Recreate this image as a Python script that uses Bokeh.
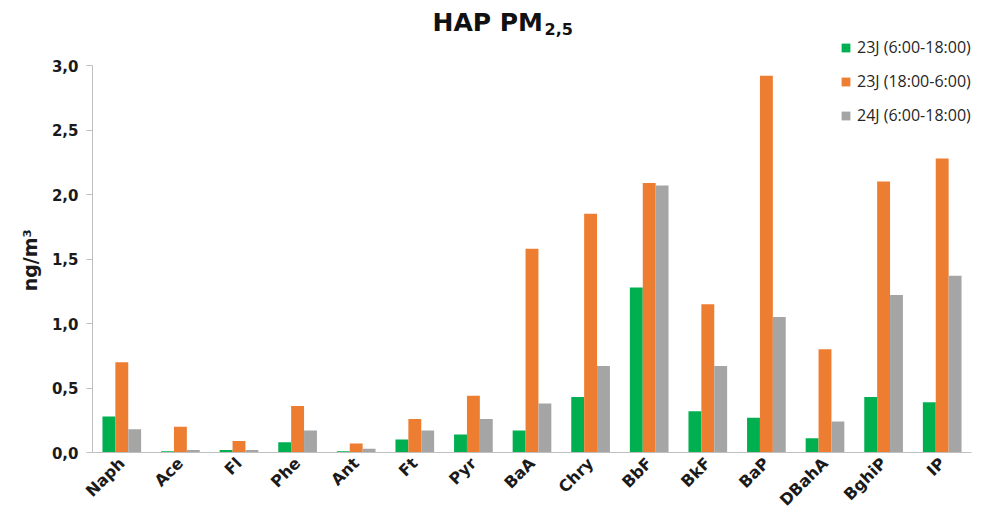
from math import pi
from bokeh.plotting import figure
from bokeh.models import (ColumnDataSource, FactorRange, Range1d, FixedTicker,
                          CustomJSTickFormatter, Legend, LegendItem, Label)
from bokeh.transform import dodge
from bokeh.embed import file_html
from bokeh.resources import INLINE

# ---- data ----
categories = ["Naph", "Ace", "Fl", "Phe", "Ant", "Ft", "Pyr", "BaA", "Chry",
              "BbF", "BkF", "BaP", "DBahA", "BghiP", "IP"]
day23 = [0.28, 0.01, 0.02, 0.08, 0.01, 0.10, 0.14, 0.17, 0.43, 1.28, 0.32, 0.27, 0.11, 0.43, 0.39]
night23 = [0.70, 0.20, 0.09, 0.36, 0.07, 0.26, 0.44, 1.58, 1.85, 2.09, 1.15, 2.92, 0.80, 2.10, 2.28]
day24 = [0.18, 0.02, 0.02, 0.17, 0.03, 0.17, 0.26, 0.38, 0.67, 2.07, 0.67, 1.05, 0.24, 1.22, 1.37]
series_labels = ["23J (6:00-18:00)", "23J (18:00-6:00)", "24J (6:00-18:00)"]
y_ticks = [0.0, 0.5, 1.0, 1.5, 2.0, 2.5, 3.0]
y_max = 3.0

colors = ["#00B050", "#ED7D31", "#A5A5A5"]
FONT = "DejaVu Sans"

# layout (pixels)
W, H = 989, 519
left, right, top, bottom = 92, 18, 8, 67
axis_top_px = 65  # where 3,0 sits on the page
frame_h = H - top - bottom
y_end = y_max * frame_h / (H - bottom - axis_top_px)

src = ColumnDataSource(dict(cat=categories, a=day23, b=night23, c=day24))

p = figure(x_range=FactorRange(*categories), y_range=Range1d(0, y_end),
           width=W, height=H, output_backend="svg", toolbar_location=None,
           min_border_left=left, min_border_right=right, min_border_top=top,
           min_border_bottom=bottom)
p.outline_line_color = None
p.grid.visible = False
p.background_fill_color = "white"

bw = 0.22
r1 = p.vbar(x=dodge("cat", -bw, range=p.x_range), top="a", width=bw, source=src,
            fill_color=colors[0], line_color=None)
r2 = p.vbar(x=dodge("cat", 0.0, range=p.x_range), top="b", width=bw, source=src,
            fill_color=colors[1], line_color=None)
r3 = p.vbar(x=dodge("cat", bw, range=p.x_range), top="c", width=bw, source=src,
            fill_color=colors[2], line_color=None)

# y axis
ya = p.yaxis[0]
ya.bounds = (0, y_max)
ya.ticker = FixedTicker(ticks=y_ticks)
ya.formatter = CustomJSTickFormatter(code="return tick.toFixed(1).replace('.', ',');")
ya.major_label_text_font = FONT
ya.major_label_text_font_style = "bold"
ya.major_label_text_font_size = "15px"
ya.major_label_text_color = "#1a1a1a"
ya.major_label_standoff = 8
ya.axis_line_color = "#BFBFBF"
ya.major_tick_line_color = "#BFBFBF"
ya.major_tick_out = 6
ya.major_tick_in = 0
ya.minor_tick_line_color = None
# trailing no-break spaces shift the centred label down to the middle of 0..3
ya.axis_label = "ng/m³" + "\u00a0" * 9
ya.axis_label_text_font = FONT
ya.axis_label_text_font_style = "bold"
ya.axis_label_text_font_size = "19px"
ya.axis_label_text_color = "#1a1a1a"
ya.axis_label_standoff = 8

# x axis
xa = p.xaxis[0]
xa.major_label_orientation = pi / 4
xa.major_label_text_font = FONT
xa.major_label_text_font_style = "bold"
xa.major_label_text_font_size = "16px"
xa.major_label_text_color = "#1a1a1a"
xa.major_tick_line_color = None
xa.major_tick_out = 0
xa.major_tick_in = 0
xa.major_label_standoff = 8
xa.axis_line_color = "#BFBFBF"

# legend
legend = Legend(items=[LegendItem(label=series_labels[0], renderers=[r1]),
                       LegendItem(label=series_labels[1], renderers=[r2]),
                       LegendItem(label=series_labels[2], renderers=[r3])],
                location=(748, 326), orientation="vertical",
                border_line_color=None, background_fill_alpha=0,
                padding=0, margin=0, spacing=12, label_height=20,
                glyph_height=11, glyph_width=11, label_standoff=6,
                label_text_font="Open Sans", label_text_font_size="16px",
                label_text_color="#262626")
p.add_layout(legend)

# title with subscript
p.add_layout(Label(x=340, y=430, x_units="screen", y_units="screen", text="HAP PM",
                   text_font=FONT, text_font_style="bold", text_font_size="25px",
                   text_color="#111111", text_baseline="alphabetic"))
p.add_layout(Label(x=452, y=424, x_units="screen", y_units="screen", text="2,5",
                   text_font=FONT, text_font_style="bold", text_font_size="16px",
                   text_color="#111111", text_baseline="alphabetic"))

open("out.html", "w").write(file_html(p, INLINE))
